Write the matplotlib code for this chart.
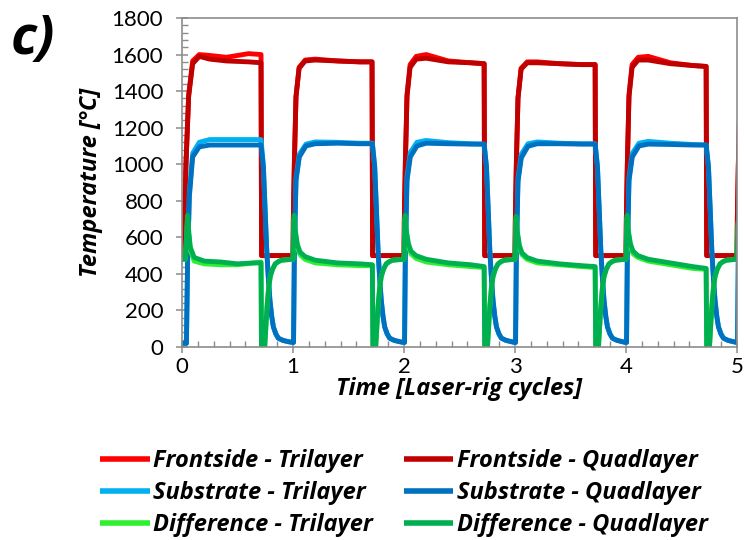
import matplotlib
matplotlib.use("Agg")
import matplotlib.pyplot as plt
from matplotlib.ticker import MultipleLocator, AutoMinorLocator

plt.rcParams["font.family"] = ["Lato", "DejaVu Sans"]
LABEL_FONT = ["Open Sans", "DejaVu Sans"]

# --- data (time in laser-rig cycles, temperature in degC) ---
FRONT_T = [
    0.000, 0.020, 0.023, 0.036, 0.060, 0.096, 0.156, 0.250, 0.400, 0.600, 0.712, 0.717,
    1.000, 1.003, 1.012, 1.027, 1.055, 1.110, 1.200, 1.400, 1.600, 1.712, 1.717,
    2.000, 2.003, 2.012, 2.027, 2.055, 2.110, 2.200, 2.400, 2.600, 2.722, 2.727,
    3.000, 3.003, 3.012, 3.027, 3.055, 3.110, 3.200, 3.400, 3.600, 3.722, 3.727,
    4.000, 4.003, 4.012, 4.027, 4.055, 4.110, 4.200, 4.400, 4.600, 4.722, 4.727,
    5.000, 5.003, 5.012, 5.027,
]
FRONT_TRI = [
    500, 500, 700, 1010, 1380, 1565, 1600, 1595, 1585, 1605, 1600, 500,
    500, 700, 1000, 1370, 1530, 1570, 1575, 1565, 1560, 1560, 500,
    500, 700, 1000, 1380, 1545, 1590, 1600, 1565, 1555, 1550, 500,
    500, 700, 1000, 1365, 1525, 1560, 1560, 1550, 1545, 1545, 500,
    500, 700, 1000, 1380, 1545, 1585, 1590, 1555, 1540, 1535, 500,
    500, 700, 1000, 1370,
]
FRONT_QUAD = [
    500, 500, 700, 1000, 1370, 1550, 1590, 1575, 1565, 1560, 1555, 500,
    500, 700, 1000, 1370, 1525, 1565, 1570, 1565, 1560, 1560, 500,
    500, 700, 1000, 1370, 1530, 1575, 1580, 1560, 1555, 1550, 500,
    500, 700, 1000, 1360, 1520, 1555, 1555, 1550, 1545, 1545, 500,
    500, 700, 1000, 1370, 1530, 1570, 1570, 1550, 1540, 1535, 500,
    500, 700, 1000, 1370,
]

SUB_T = [
    0.000, 0.040, 0.050, 0.066, 0.096, 0.156, 0.250, 0.400, 0.600, 0.712,
    0.733, 0.748, 0.763, 0.778, 0.792, 0.808, 0.823, 0.845, 0.868, 0.910, 0.958, 0.995,
    1.005, 1.012, 1.027, 1.057, 1.117, 1.200, 1.400, 1.600, 1.715,
    1.736, 1.751, 1.766, 1.781, 1.795, 1.811, 1.826, 1.848, 1.871, 1.913, 1.961, 1.995,
    2.005, 2.012, 2.027, 2.057, 2.117, 2.200, 2.400, 2.600, 2.722,
    2.743, 2.758, 2.773, 2.788, 2.802, 2.818, 2.833, 2.855, 2.878, 2.920, 2.968, 2.995,
    3.005, 3.012, 3.027, 3.057, 3.117, 3.200, 3.400, 3.600, 3.722,
    3.743, 3.758, 3.773, 3.788, 3.802, 3.818, 3.833, 3.855, 3.878, 3.920, 3.968, 3.995,
    4.005, 4.012, 4.027, 4.057, 4.117, 4.200, 4.400, 4.600, 4.722,
    4.743, 4.758, 4.773, 4.788, 4.802, 4.818, 4.833, 4.855, 4.878, 4.920, 4.968, 4.995,
    5.005, 5.012, 5.027,
]
SUB_TRI = [
    20, 20, 460, 840, 1060, 1120, 1135, 1135, 1135, 1135,
    1000, 770, 540, 380, 260, 170, 112, 72, 48, 36, 29, 25,
    25, 510, 920, 1055, 1110, 1122, 1120, 1115, 1115,
    990, 760, 535, 375, 258, 168, 110, 72, 48, 36, 29, 25,
    25, 510, 930, 1065, 1120, 1130, 1118, 1112, 1110,
    985, 760, 530, 372, 255, 168, 110, 72, 48, 36, 29, 25,
    25, 510, 920, 1055, 1112, 1122, 1115, 1112, 1112,
    985, 760, 530, 372, 255, 168, 110, 72, 48, 36, 29, 25,
    25, 510, 925, 1060, 1115, 1125, 1115, 1108, 1105,
    985, 760, 530, 372, 255, 168, 110, 72, 48, 36, 29, 25,
    25, 510, 920,
]
SUB_QUAD = [
    20, 20, 450, 820, 1040, 1095, 1105, 1105, 1105, 1105,
    980, 755, 530, 372, 255, 168, 110, 72, 48, 36, 29, 25,
    25, 500, 910, 1040, 1100, 1112, 1115, 1112, 1112,
    985, 760, 530, 372, 255, 168, 110, 72, 48, 36, 29, 25,
    25, 500, 910, 1040, 1100, 1115, 1112, 1110, 1110,
    985, 760, 530, 372, 255, 168, 110, 72, 48, 36, 29, 25,
    25, 500, 905, 1035, 1098, 1112, 1112, 1110, 1110,
    985, 760, 530, 372, 255, 168, 110, 72, 48, 36, 29, 25,
    25, 500, 910, 1040, 1100, 1110, 1108, 1105, 1105,
    985, 760, 530, 372, 255, 168, 110, 72, 48, 36, 29, 25,
    25, 500, 910,
]

DIFF_T = [
    0.000, 0.030, 0.040, 0.050, 0.058, 0.075, 0.110, 0.200, 0.350, 0.500, 0.650,
    0.712, 0.716, 0.745, 0.766, 0.780, 0.795, 0.815, 0.840, 0.870, 0.900, 0.995,
    1.000, 1.004, 1.010, 1.020, 1.040, 1.063, 1.108, 1.200, 1.400, 1.600, 1.715,
    1.720, 1.745, 1.766, 1.780, 1.795, 1.815, 1.840, 1.870, 1.900, 1.995,
    2.000, 2.004, 2.010, 2.020, 2.040, 2.063, 2.108, 2.200, 2.400, 2.600, 2.722,
    2.727, 2.752, 2.773, 2.787, 2.802, 2.822, 2.847, 2.877, 2.907, 2.995,
    3.000, 3.004, 3.010, 3.020, 3.040, 3.063, 3.108, 3.200, 3.400, 3.600, 3.722,
    3.727, 3.752, 3.773, 3.787, 3.802, 3.822, 3.847, 3.877, 3.907, 3.995,
    4.000, 4.004, 4.010, 4.020, 4.040, 4.063, 4.108, 4.200, 4.400, 4.600, 4.722,
    4.727, 4.752, 4.773, 4.787, 4.802, 4.822, 4.847, 4.877, 4.907, 4.995,
    5.000, 5.004, 5.010,
]
DIFF_TRI = [
    480, 480, 590, 700, 630, 530, 470, 455, 450, 450, 460,
    465, 0, 0, 220, 320, 385, 425, 455, 468, 475, 480,
    480, 590, 700, 625, 545, 505, 480, 460, 450, 445, 445,
    0, 0, 220, 320, 385, 425, 455, 468, 475, 480,
    480, 590, 705, 625, 550, 510, 485, 465, 450, 440, 435,
    0, 0, 220, 320, 385, 425, 455, 468, 475, 480,
    480, 590, 700, 620, 545, 505, 480, 460, 450, 440, 435,
    0, 0, 220, 320, 385, 425, 455, 468, 475, 480,
    480, 590, 705, 625, 550, 510, 490, 470, 450, 430, 425,
    0, 0, 220, 320, 385, 425, 455, 468, 475, 480,
    480, 590, 680,
]
DIFF_QUAD = [
    480, 480, 600, 720, 650, 545, 490, 470, 465, 455, 460,
    460, 0, 0, 220, 320, 385, 425, 455, 468, 475, 480,
    480, 600, 720, 640, 560, 520, 495, 475, 460, 455, 450,
    0, 0, 220, 320, 385, 425, 455, 468, 475, 480,
    480, 600, 720, 640, 565, 525, 500, 480, 460, 450, 440,
    0, 0, 220, 320, 385, 425, 455, 468, 475, 480,
    480, 600, 715, 635, 555, 515, 490, 470, 455, 445, 440,
    0, 0, 220, 320, 385, 425, 455, 468, 475, 480,
    480, 600, 720, 640, 565, 525, 500, 480, 460, 440, 430,
    0, 0, 220, 320, 385, 425, 455, 468, 475, 480,
    480, 600, 690,
]

SERIES = [
    ("Frontside - Trilayer", FRONT_T, FRONT_TRI, "#FF0000"),
    ("Substrate - Trilayer", SUB_T, SUB_TRI, "#00B0F0"),
    ("Difference - Trilayer", DIFF_T, DIFF_TRI, "#2EF02E"),
    ("Frontside - Quadlayer", FRONT_T, FRONT_QUAD, "#C00000"),
    ("Substrate - Quadlayer", SUB_T, SUB_QUAD, "#0070C0"),
    ("Difference - Quadlayer", DIFF_T, DIFF_QUAD, "#00B050"),
]
# drawing order: trilayer below quadlayer within each group
DRAW_ORDER = [0, 3, 1, 4, 2, 5]

AXIS_GRAY = "#8C8C8C"

fig = plt.figure(figsize=(7.44, 5.4), dpi=100)
ax = fig.add_axes([182 / 744, 1 - 347 / 540, (737 - 182) / 744, (347 - 18) / 540])

lines = {}
for i in DRAW_ORDER:
    label, t, y, color = SERIES[i]
    (ln,) = ax.plot(t, y, color=color, linewidth=3.5, solid_joinstyle="round",
                    solid_capstyle="butt", label=label)
    lines[i] = ln

ax.set_xlim(0, 5)
ax.set_ylim(0, 1800)
ax.xaxis.set_major_locator(MultipleLocator(1))
ax.xaxis.set_minor_locator(AutoMinorLocator(7))
ax.yaxis.set_major_locator(MultipleLocator(200))
ax.yaxis.set_minor_locator(AutoMinorLocator(5))

for side in ["left", "bottom", "top", "right"]:
    ax.spines[side].set_color(AXIS_GRAY)
    ax.spines[side].set_linewidth(1.2)

ax.tick_params(which="major", direction="inout", length=9, width=1.1,
               color=AXIS_GRAY, labelsize=16, labelcolor="black")
ax.tick_params(axis="y", which="major", pad=9)
ax.tick_params(axis="x", which="major", pad=3)
ax.tick_params(which="minor", direction="in", length=4, width=1.0, color=AXIS_GRAY)

ax.set_xlabel("Time [Laser-rig cycles]", fontsize=17, fontweight="bold",
              fontstyle="italic", family=LABEL_FONT, labelpad=0)
ax.set_ylabel("Temperature [°C]", fontsize=17, fontweight="bold",
              fontstyle="italic", family=LABEL_FONT, labelpad=6)

fig.text(0.014, 0.975, "c)", fontsize=39, fontweight="bold", fontstyle="italic",
         family=LABEL_FONT, ha="left", va="top")

handles = [lines[i] for i in range(6)]
fig.legend(handles, [s[0] for s in SERIES], ncol=2, loc="center",
           bbox_to_anchor=(0.543, 0.087), frameon=False,
           prop={"family": LABEL_FONT, "size": 17, "weight": "bold", "style": "italic"},
           handlelength=2.1, handletextpad=0.15, columnspacing=1.3,
           labelspacing=0.33)
for ln in fig.legends[0].get_lines():
    ln.set_linewidth(4)

fig.savefig("out.png", dpi=100)
